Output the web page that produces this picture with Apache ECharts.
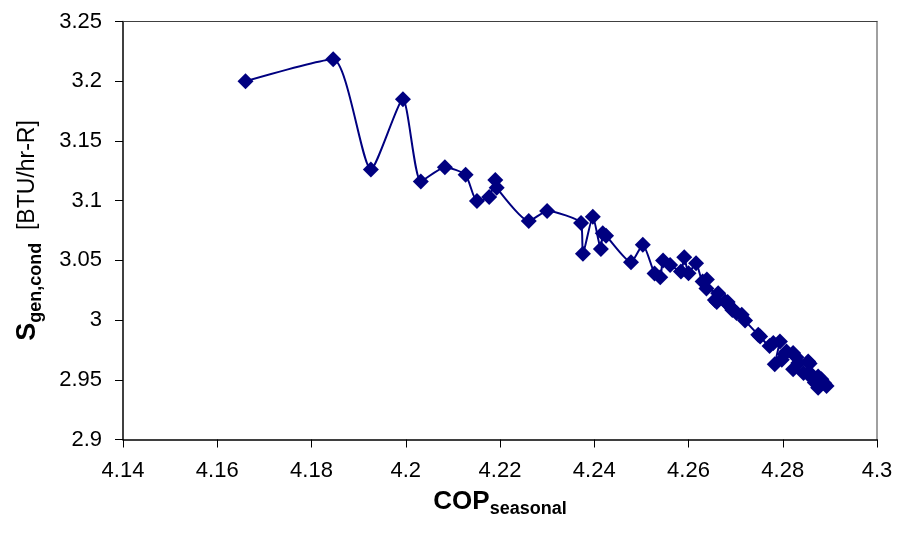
<!DOCTYPE html>
<html>
<head>
<meta charset="utf-8">
<script src="https://cdn.jsdelivr.net/npm/echarts@6/dist/echarts.min.js"></script>
<style>
  html, body { margin: 0; padding: 0; background: #ffffff; }
  #chart { width: 900px; height: 543px; }
</style>
</head>
<body>
<div id="chart"></div>
<script>
// COP_seasonal (x) values, in plotted order
const cop = [
  4.1660, 4.1846, 4.1926, 4.1994, 4.2032, 4.2083, 4.2127, 4.2151, 4.2177, 4.2190,
  4.2193, 4.2261, 4.2300, 4.2372, 4.2376, 4.2397, 4.2414, 4.2418, 4.2425, 4.2478,
  4.2503, 4.2528, 4.2540, 4.2546, 4.2561, 4.2584, 4.2591, 4.2600, 4.2616, 4.2630,
  4.2639, 4.2638, 4.2663, 4.2656, 4.2660, 4.2678, 4.2683, 4.2684, 4.2692, 4.2693,
  4.2702, 4.2713, 4.2720, 4.2748, 4.2752, 4.2772, 4.2780, 4.2794, 4.2783, 4.2798,
  4.2808, 4.2804, 4.2822, 4.2829, 4.2822, 4.2833, 4.2854, 4.2857, 4.2844, 4.2854,
  4.2861, 4.2868, 4.2875, 4.2882, 4.2875, 4.2893, 4.2888
];
// S_gen,cond [BTU/hr-R] (y) values, same order
const sgen = [
  3.1999, 3.2183, 3.1261, 3.1848, 3.1161, 3.1280, 3.1216, 3.0996, 3.1030, 3.1172,
  3.1107, 3.0829, 3.0913, 3.0812, 3.0556, 3.0865, 3.0595, 3.0726, 3.0706, 3.0484,
  3.0631, 3.0389, 3.0359, 3.0498, 3.0462, 3.0406, 3.0526, 3.0392, 3.0476, 3.0322,
  3.0339, 3.0264, 3.0225, 3.0169, 3.0152, 3.0155, 3.0152, 3.0130, 3.0100, 3.0085,
  3.0060, 3.0044, 2.9996, 2.9877, 2.9862, 2.9783, 2.9807, 2.9821, 2.9631, 2.9668,
  2.9737, 2.9715, 2.9724, 2.9688, 2.9589, 2.9640, 2.9654, 2.9637, 2.9557, 2.9547,
  2.9543, 2.9477, 2.9528, 2.9505, 2.9434, 2.9449, 2.9470
];
// Tick labels
const xTicks = ['4.14', '4.16', '4.18', '4.2', '4.22', '4.24', '4.26', '4.28', '4.3'];
const yTicks = ['2.9', '2.95', '3', '3.05', '3.1', '3.15', '3.2', '3.25'];

const points = cop.map((x, i) => [x, sgen[i]]);
const fmt = v => String(parseFloat(Number(v).toFixed(2)));

const FONT = '"Liberation Sans", Arial, sans-serif';
const chart = echarts.init(document.getElementById('chart'), null, { renderer: 'canvas' });

chart.setOption({
  animation: false,
  backgroundColor: '#ffffff',
  grid: { left: 123, right: 23, top: 21.5, bottom: 103.5, containLabel: false },
  xAxis: [{
    type: 'value',
    min: Number(xTicks[0]),
    max: Number(xTicks[xTicks.length - 1]),
    interval: 0.02,
    position: 'bottom',
    axisLine: { show: true, onZero: false, lineStyle: { color: '#000000', width: 1.5 } },
    axisTick: { show: true, inside: false, length: 8, lineStyle: { color: '#000000', width: 1 } },
    splitLine: { show: false },
    axisLabel: {
      margin: 20, color: '#000000', fontFamily: FONT, fontSize: 22,
      formatter: v => { const s = fmt(v); return xTicks.includes(s) ? s : ''; }
    },
    name: '{b|COP}{s|seasonal}',
    nameLocation: 'middle',
    nameGap: 45,
    nameTextStyle: {
      rich: {
        b: { fontFamily: FONT, fontWeight: 'bold', fontSize: 26, color: '#000', lineHeight: 34, verticalAlign: 'middle' },
        s: { fontFamily: FONT, fontWeight: 'bold', fontSize: 18, color: '#000', lineHeight: 18, verticalAlign: 'bottom' }
      }
    }
  }, {
    type: 'value',
    min: Number(xTicks[0]),
    max: Number(xTicks[xTicks.length - 1]),
    position: 'top',
    axisLine: { show: true, onZero: false, lineStyle: { color: '#404040', width: 1 } },
    axisTick: { show: false },
    axisLabel: { show: false },
    splitLine: { show: false }
  }],
  yAxis: [{
    type: 'value',
    min: Number(yTicks[0]),
    max: Number(yTicks[yTicks.length - 1]),
    interval: 0.05,
    position: 'left',
    axisLine: { show: true, onZero: false, lineStyle: { color: '#000000', width: 1.5 } },
    axisTick: { show: true, inside: false, length: 8, lineStyle: { color: '#000000', width: 1 } },
    splitLine: { show: false },
    axisLabel: {
      margin: 21, color: '#000000', fontFamily: FONT, fontSize: 22,
      formatter: v => { const s = fmt(v); return yTicks.includes(s) ? s : ''; }
    },
    name: '{b|S}{s|gen,cond}{n|  [BTU/hr-R]}',
    nameLocation: 'middle',
    nameRotate: 90,
    nameGap: 78,
    nameTextStyle: {
      rich: {
        b: { fontFamily: FONT, fontWeight: 'bold', fontSize: 27, color: '#000', lineHeight: 34, verticalAlign: 'middle' },
        s: { fontFamily: FONT, fontWeight: 'bold', fontSize: 18, color: '#000', lineHeight: 18, verticalAlign: 'bottom' },
        n: { fontFamily: FONT, fontWeight: 'normal', fontSize: 23, color: '#000', lineHeight: 34, verticalAlign: 'middle' }
      }
    }
  }, {
    type: 'value',
    min: Number(yTicks[0]),
    max: Number(yTicks[yTicks.length - 1]),
    position: 'right',
    axisLine: { show: true, onZero: false, lineStyle: { color: '#808080', width: 1.5 } },
    axisTick: { show: false },
    axisLabel: { show: false },
    splitLine: { show: false }
  }],
  series: [{
    type: 'line',
    xAxisIndex: 0,
    yAxisIndex: 0,
    data: points,
    smooth: 0.2,
    symbol: 'diamond',
    symbolSize: 16,
    showAllSymbol: true,
    lineStyle: { color: '#000080', width: 2 },
    itemStyle: { color: '#000080', borderWidth: 0 },
    emphasis: { disabled: true }
  }]
});
</script>
</body>
</html>
